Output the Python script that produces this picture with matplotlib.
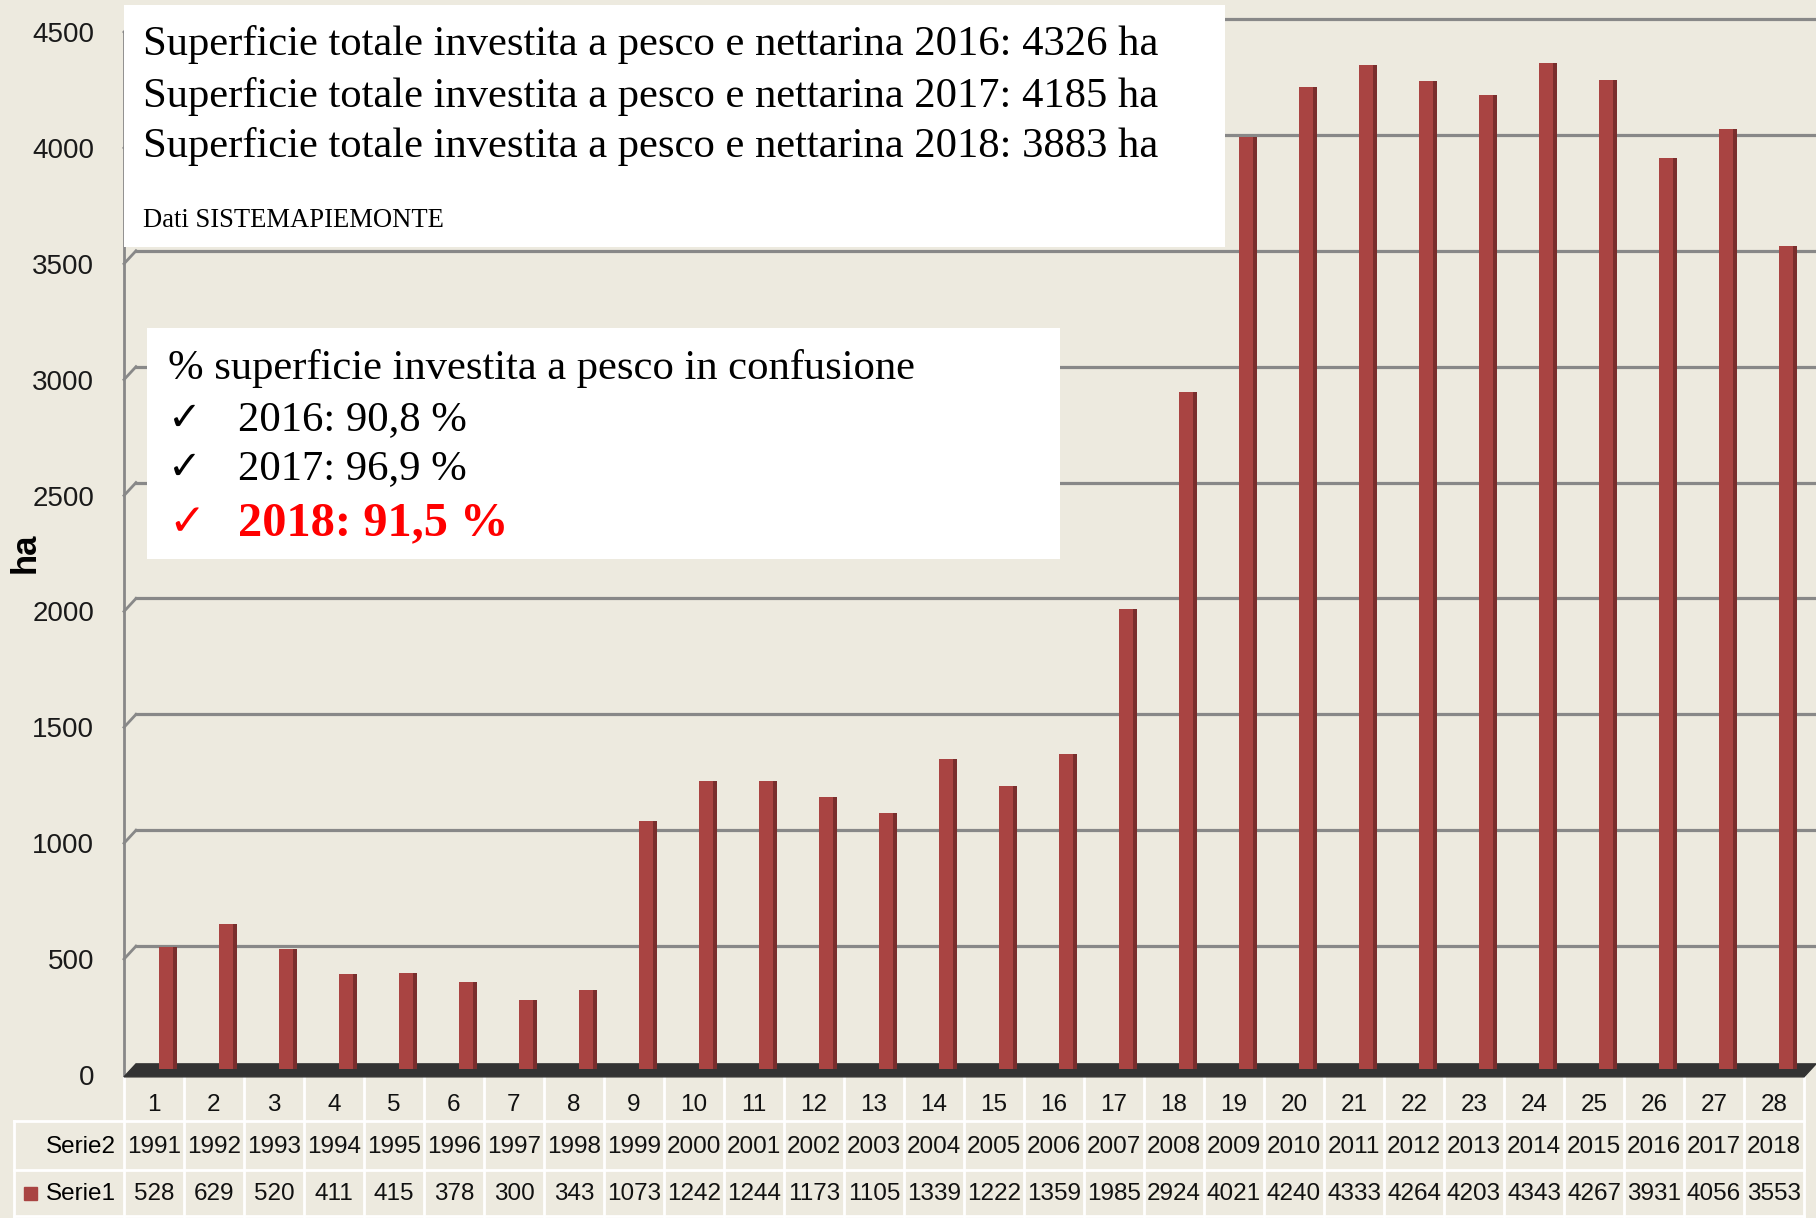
import matplotlib
matplotlib.use('Agg')
import matplotlib.pyplot as plt
from matplotlib.patches import Rectangle, Polygon
from matplotlib import transforms

# dati: superficie pesco + nettarina (ha)
categorie = list(range(1, 29))
anni = [1991, 1992, 1993, 1994, 1995, 1996, 1997, 1998, 1999, 2000,
        2001, 2002, 2003, 2004, 2005, 2006, 2007, 2008, 2009, 2010,
        2011, 2012, 2013, 2014, 2015, 2016, 2017, 2018]
superficie = [528, 629, 520, 411, 415, 378, 300, 343, 1073, 1242,
              1244, 1173, 1105, 1339, 1222, 1359, 1985, 2924, 4021, 4240,
              4333, 4264, 4203, 4343, 4267, 3931, 4056, 3553]
y_ticks = list(range(0, 4501, 500))

righe_box1 = ['Superficie totale investita a pesco e nettarina 2016: 4326 ha',
              'Superficie totale investita a pesco e nettarina 2017: 4185 ha',
              'Superficie totale investita a pesco e nettarina 2018: 3883 ha']
fonte = 'Dati SISTEMAPIEMONTE'
titolo_box2 = '% superficie investita a pesco in confusione'
righe_box2 = ['2016: 90,8 %', '2017: 96,9 %', '2018: 91,5 %']

BG = '#edeadf'
BAR = '#a94442'
BAR_DARK = '#7a2e2d'
GRID = '#888888'
W, H = 1816, 1218

fig = plt.figure(figsize=(W / 100, H / 100), dpi=100, facecolor=BG)

# overlay in coordinate pixel per riquadri e tabella
ov = fig.add_axes([0, 0, 1, 1])
ov.set_xlim(0, W)
ov.set_ylim(H, 0)
ov.axis('off')
ov.set_zorder(0)

ax = fig.add_axes([124 / W, (H - 1075) / H, 1680 / W, 1043 / H])
ax.set_facecolor('none')
ax.set_zorder(1)
ax.set_xlim(-0.5, 27.5)
ax.set_ylim(0, 4500)
for s in ax.spines.values():
    s.set_visible(False)
ax.set_xticks([])
ax.set_yticks(y_ticks)
ax.tick_params(axis='y', length=0, pad=21.5, labelsize=20, labelcolor='#1a1a1a')
for t in ax.get_yticklabels():
    t.set_fontfamily('Liberation Sans')

# finto 3D: profondita
DX = 0.2
DY = 56
ax.plot([-0.5, -0.5], [0, 4500], color=GRID, lw=2, clip_on=False, zorder=1)
for v in y_ticks[1:]:
    ax.plot([-0.5, -0.5 + DX], [v, v + DY], color=GRID, lw=2, clip_on=False, zorder=1)
    ax.plot([-0.5 + DX, 28.3], [v + DY, v + DY], color=GRID, lw=2.3, clip_on=False, zorder=1)

floor = Polygon([(-0.5, -8), (27.5, -8), (27.5 + DX, DY - 8), (-0.5 + DX, DY - 8)],
                closed=True, color='#333333', clip_on=False, zorder=2)
ax.add_patch(floor)

# barre alzate di qualche pixel (meta profondita)
off = transforms.offset_copy(ax.transData, fig=fig, x=0, y=8, units='dots')
xs = [i - 1 + 0.23 for i in categorie]
ax.bar(xs, superficie, width=0.3, bottom=-10, color=BAR, zorder=3, clip_on=False,
       transform=off)
ax.bar([x + 0.12 for x in xs], superficie, width=0.06, bottom=-10, color=BAR_DARK,
       zorder=4, clip_on=False, transform=off)

# tabella sotto il grafico
tr = transforms.blended_transform_factory(ax.transData, ov.transData)
lw_t = 2
for k in range(29):
    ov.plot([k - 0.5, k - 0.5], [1075, H], color='white', lw=lw_t, transform=tr, zorder=1)
for yy in [1121, 1170, 1216]:
    ov.plot([14, 1804], [yy, yy], color='white', lw=lw_t, zorder=1)
ov.plot([14, 14], [1121, H], color='white', lw=lw_t, zorder=1)

for i, c in enumerate(categorie):
    ov.text(i, 1105, str(c), transform=tr, ha='center', va='center', fontsize=17.5,
            family='Liberation Sans', color='#111111')
    ov.text(i, 1147, str(anni[i]), transform=tr, ha='center', va='center', fontsize=17.5,
            family='Liberation Sans', color='#111111')
    ov.text(i, 1194, str(superficie[i]), transform=tr, ha='center', va='center', fontsize=17.5,
            family='Liberation Sans', color='#111111')
ov.text(116, 1147, 'Serie2', ha='right', va='center', fontsize=17.5, family='Liberation Sans')
ov.text(116, 1194, 'Serie1', ha='right', va='center', fontsize=17.5, family='Liberation Sans')
ov.add_patch(Rectangle((24, 1187), 13, 13, color=BAR, zorder=2))

ov.text(25, 553, 'ha', rotation=90, ha='center', va='center', fontsize=25,
        fontweight='bold', family='Liberation Sans')

# riquadri di testo
box1 = Rectangle((124, 5), 1101, 242, facecolor='white', edgecolor='none', zorder=5,
                 transform=ov.transData)
box2 = Rectangle((147, 328), 913, 231, facecolor='white', edgecolor='none', zorder=5,
                 transform=ov.transData)
fig.add_artist(box1)
fig.add_artist(box2)

serif = ['Liberation Serif', 'DejaVu Serif']
for j, r in enumerate(righe_box1):
    fig.text(143 / W, 1 - [55, 107, 157][j] / H, r, fontsize=30.7, family=serif,
             va='baseline', zorder=6)
fig.text(143 / W, 1 - 227 / H, fonte, fontsize=19.2, family=serif, va='baseline', zorder=6)

fig.text(168 / W, 1 - 379 / H, titolo_box2, fontsize=30.7, family=serif, va='baseline', zorder=6)
for j, r in enumerate(righe_box2):
    yb = [430, 479, 535][j]
    rosso = j == 2
    fig.text(168 / W, 1 - yb / H, '\u2713', fontsize=29 if not rosso else 32,
             family=['DejaVu Sans'], color='red' if rosso else 'black',
             va='baseline', zorder=6)
    fig.text(238 / W, 1 - yb / H, r, fontsize=34.8 if rosso else 30.7, family=serif,
             fontweight='bold' if rosso else 'normal', color='red' if rosso else 'black',
             va='baseline', zorder=6)

fig.savefig('out.png', dpi=100, facecolor=BG)
